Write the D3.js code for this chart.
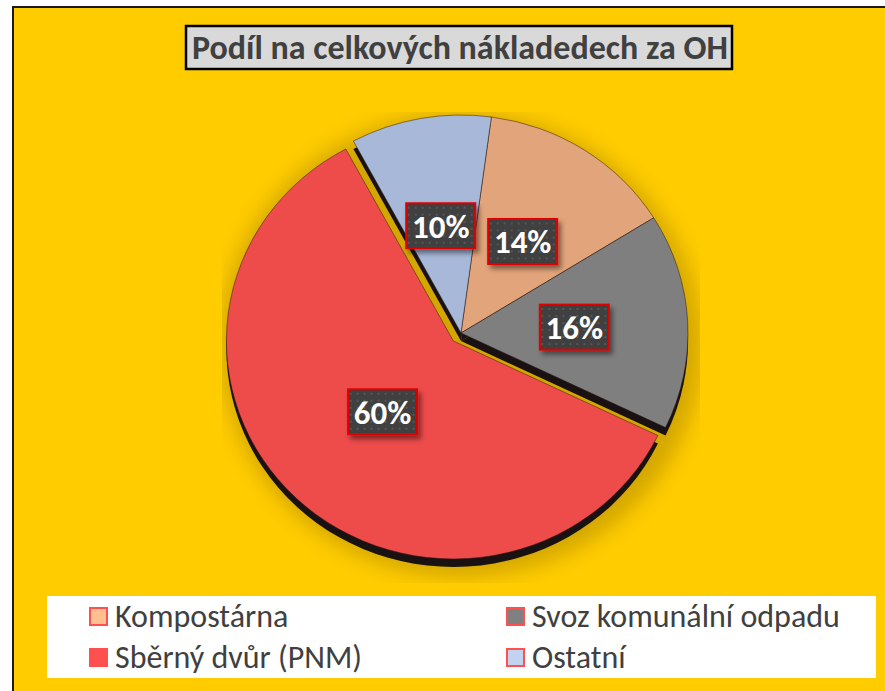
<!DOCTYPE html>
<html><head><meta charset="utf-8">
<script src="https://cdn.jsdelivr.net/npm/d3@7/dist/d3.min.js"></script>
<style>html,body{margin:0;padding:0;background:#fff;overflow:hidden}svg{display:block}</style>
</head><body>
<script>
const title = "Podíl na celkových nákladedech za OH";
const categories = ["Kompostárna", "Svoz komunální odpadu", "Sběrný dvůr (PNM)", "Ostatní"];
const values = [14, 16, 60, 10];
const valueLabels = ["14%", "16%", "60%", "10%"];
const pieColors = ["#E2A47A", "#7F7F7F", "#EE4B4B", "#A7B8D8"];
const legendColors = ["#FFBF8F", "#808080", "#FF5050", "#C3D2EE"];
const explode = [0, 0, 11, 0];

const W = 885, H = 691;
const FONT = "Carlito, Lato, 'Open Sans', sans-serif";
const svg = d3.select("body").append("svg").attr("width", W).attr("height", H);
const defs = svg.append("defs");

// filters & patterns
const soft = defs.append("filter").attr("id", "soft").attr("x", "-30%").attr("y", "-30%").attr("width", "160%").attr("height", "160%");
soft.append("feGaussianBlur").attr("stdDeviation", 10);
const lblShadow = defs.append("filter").attr("id", "lblShadow").attr("x", "-30%").attr("y", "-30%").attr("width", "160%").attr("height", "160%");
lblShadow.append("feDropShadow").attr("dx", 3).attr("dy", 4).attr("stdDeviation", 2.5).attr("flood-color", "#000").attr("flood-opacity", 0.45);
const pat = defs.append("pattern").attr("id", "dots").attr("patternUnits", "userSpaceOnUse").attr("width", 7).attr("height", 7);
pat.append("rect").attr("width", 7).attr("height", 7).attr("fill", "#3f3f3f");
pat.append("rect").attr("x", 2).attr("y", 2).attr("width", 2).attr("height", 2).attr("fill", "#565656");
defs.append("clipPath").attr("id", "plotClip").append("rect")
  .attr("x", 222).attr("y", 112).attr("width", 478).attr("height", 471);

// background frame
svg.append("rect").attr("x", 13).attr("y", 7).attr("width", W + 10).attr("height", H + 10)
  .attr("fill", "#FFCC00").attr("stroke", "#1a1a1a").attr("stroke-width", 2);

// title
const tg = svg.append("g");
tg.append("rect").attr("x", 186).attr("y", 26).attr("width", 546).attr("height", 43)
  .attr("fill", "#D9D9D9").attr("stroke", "#000").attr("stroke-width", 2.5);
tg.append("text").attr("x", 460).attr("y", 59).attr("text-anchor", "middle")
  .attr("font-family", FONT).attr("font-weight", "bold")
  .attr("font-size", 34).attr("fill", "#404040").text(title);

// pie
const cx = 461, cy = 333, ry = 218, rx = 227;
const sx = rx / ry;
const startA = 7.7 * Math.PI / 180;
const pie = d3.pie().sort(null).startAngle(startA).endAngle(startA + 2 * Math.PI);
const arcs = pie(values);
const arc = d3.arc().innerRadius(0).outerRadius(ry);

// soft background shadow
svg.append("g").attr("clip-path", "url(#plotClip)")
  .append("ellipse").attr("cx", cx).attr("cy", cy + 12).attr("rx", rx + 14).attr("ry", ry + 14)
  .attr("fill", "#9a7600").attr("opacity", 0.42).attr("filter", "url(#soft)");

const pg = svg.append("g").attr("transform", `translate(${cx},${cy}) scale(${sx},1)`);
function off(d, i) {
  const m = (d.startAngle + d.endAngle) / 2;
  return [Math.sin(m) * explode[i] / sx, -Math.cos(m) * explode[i]];
}
const order = d3.range(values.length).sort((a, b) => explode[b] - explode[a]);
const first = order.filter(i => explode[i] > 0);
const rest = order.filter(i => explode[i] === 0);
function drawShadow(i) {
  const [ox, oy] = off(arcs[i], i);
  pg.append("path").attr("d", arc(arcs[i])).attr("transform", `translate(${ox},${oy + 8})`)
    .attr("fill", "#1a1212");
}
function drawSlice(i) {
  const [ox, oy] = off(arcs[i], i);
  pg.append("path").attr("d", arc(arcs[i])).attr("transform", `translate(${ox},${oy})`)
    .attr("fill", pieColors[i]).attr("stroke", "rgba(40,20,10,0.55)").attr("stroke-width", 0.9)
    .attr("vector-effect", "non-scaling-stroke");
}
first.forEach(i => { drawShadow(i); drawSlice(i); });
rest.forEach(drawShadow);
rest.forEach(drawSlice);

// labels
const bw = 69, bh = 45;
arcs.forEach((d, i) => {
  const m = (d.startAngle + d.endAngle) / 2;
  const lx = cx + Math.sin(m) * ry * 0.5 * sx;
  const ly = cy - Math.cos(m) * ry * 0.5;
  const g = svg.append("g").attr("transform", `translate(${lx},${ly})`);
  g.append("rect").attr("x", -bw / 2).attr("y", -bh / 2).attr("width", bw).attr("height", bh)
    .attr("fill", "url(#dots)").attr("stroke", "#E00000").attr("stroke-width", 2)
    .attr("filter", "url(#lblShadow)");
  g.append("text").attr("text-anchor", "middle").attr("y", 12)
    .attr("font-family", FONT).attr("font-weight", "bold")
    .attr("font-size", 33).attr("fill", "#fff").text(valueLabels[i]);
});

// legend
const lg = svg.append("g");
lg.append("rect").attr("x", 47).attr("y", 596).attr("width", 829).attr("height", 82).attr("fill", "#fff");
const colX = [89, 506], rowY = [607, 648];
categories.forEach((c, i) => {
  const x = colX[i % 2], y = rowY[Math.floor(i / 2)];
  lg.append("rect").attr("x", x + 1).attr("y", y + 1).attr("width", 17).attr("height", 17)
    .attr("fill", legendColors[i]).attr("stroke", "#FF5050").attr("stroke-width", 2);
  lg.append("text").attr("x", x + 26).attr("y", y + 20)
    .attr("font-family", FONT)
    .attr("font-size", 32).attr("fill", "#404040").text(c);
});
</script>
</body></html>
